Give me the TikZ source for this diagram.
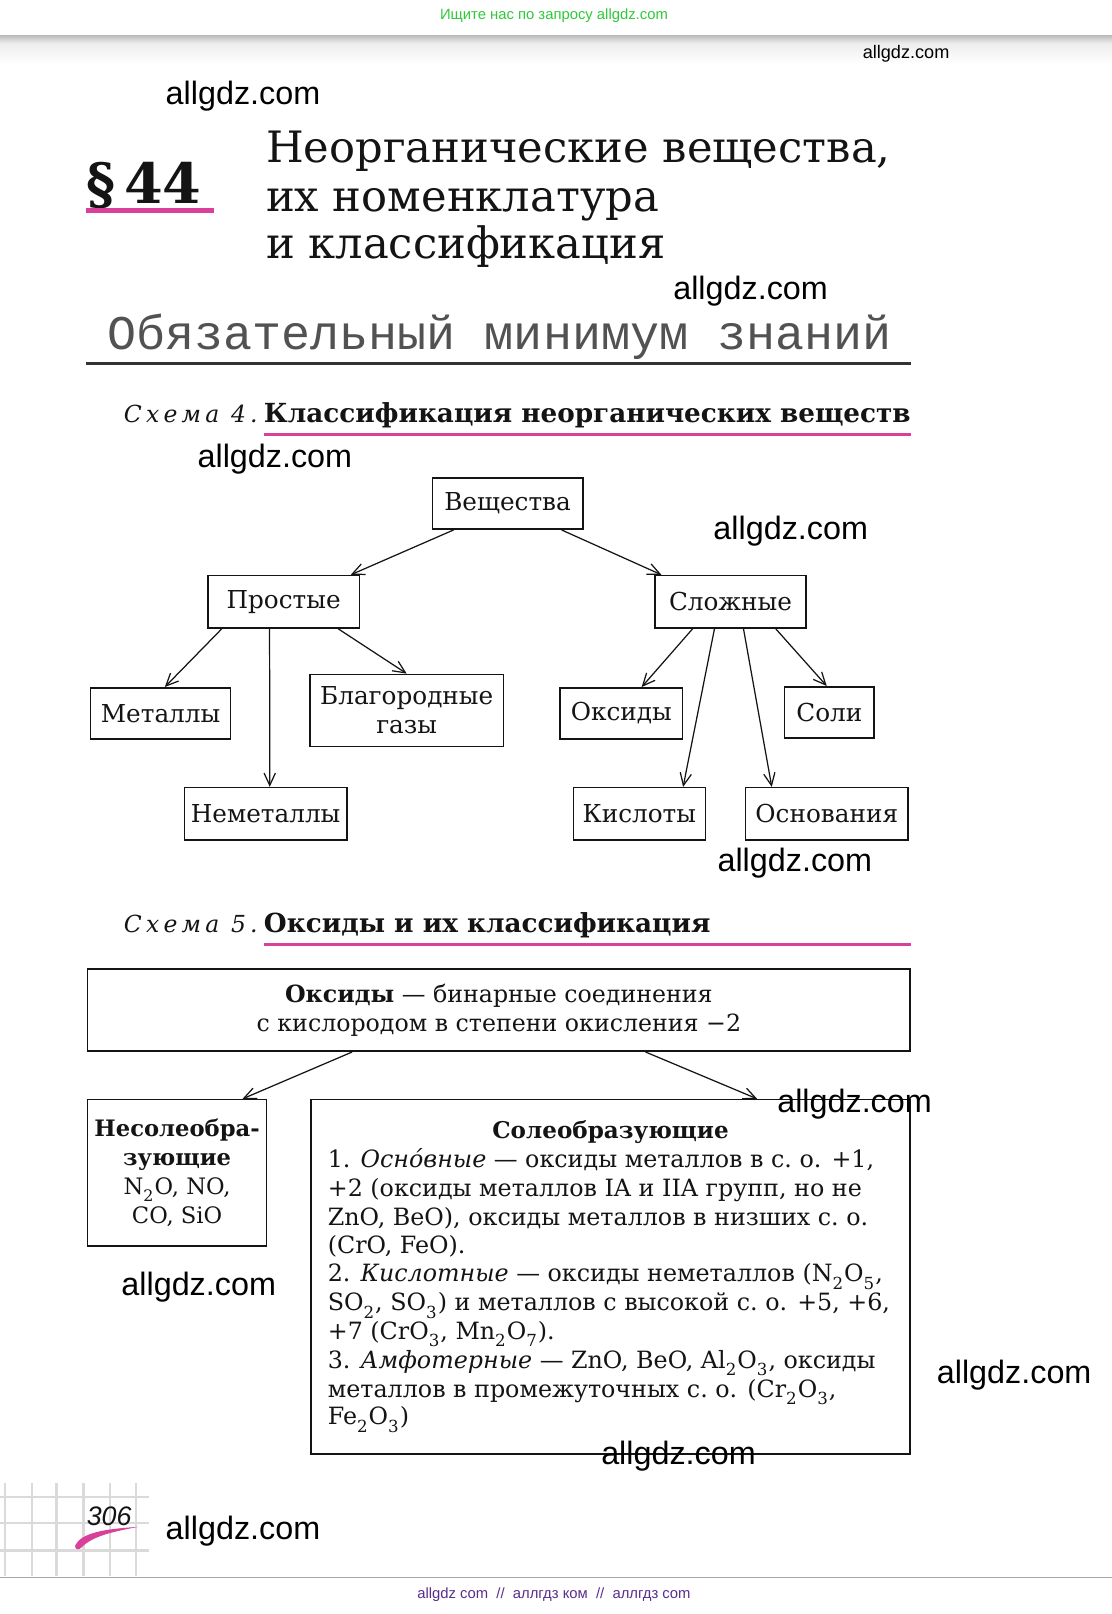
\documentclass[tikz,border=0pt]{standalone}
\usepackage{fontspec}
\setmainfont{DejaVu Serif}
\newfontfamily\wmfont{Liberation Sans}
\newfontfamily\monofnt{Liberation Mono}
\newfontfamily\spfont[LetterSpace=18]{DejaVu Serif}
\usetikzlibrary{arrows.meta,calc}
\definecolor{pinkl}{HTML}{D8409A}
\definecolor{greent}{HTML}{2FC93A}
\definecolor{purpt}{HTML}{5A2D8C}
\definecolor{gridg}{HTML}{DADADA}
\definecolor{ink}{HTML}{141414}
\tikzset{
  box/.style={draw=ink, line width=0.75pt, inner sep=0pt, align=center, text=ink,
              font=\fontsize{12}{14}\selectfont},
  arr/.style={draw=ink, line width=0.6pt, -{Straight Barb[length=6pt,width=5.5pt]}},
  wm/.style={font=\wmfont\fontsize{15.7}{18}\selectfont, inner sep=0pt, text=black},
  body/.style={anchor=base west, inner sep=0pt, text=ink, font=\fontsize{11.55}{14}\selectfont},
  ttl/.style={anchor=base west, inner sep=0pt, text=ink, font=\fontsize{21}{24}\selectfont},
  schem/.style={anchor=base west, inner sep=0pt, text=ink, font=\spfont\itshape\fontsize{11.4}{14}\selectfont},
  head/.style={anchor=base west, inner sep=0pt, text=ink, font=\bfseries\fontsize{12.75}{16}\selectfont},
}
\newcommand\myconn[4]{\draw[arr] ($(#1.south west)!#2!(#1.south east)$) -- ($(#3.north west)!#4!(#3.north east)$);}
\newcommand\sbs[1]{\raisebox{-0.15em}{\textsubscript{#1}}}
\begin{document}
\begin{tikzpicture}[x=0.5pt,y=-0.5pt]
\path[use as bounding box, fill=white] (0,0) rectangle (1080,1567.6);
% top bar
\shade[top color=black!27, bottom color=black!7] (0,34) rectangle (1080,42);
\shade[top color=black!7, bottom color=white] (0,42) rectangle (1080,62);
\node[font=\wmfont\fontsize{7.2}{9}\selectfont, text=greent, inner sep=0pt] (topad) at (538,15) {Ищите нас по запросу allgdz.com};
\node[wm, font=\wmfont\fontsize{8.8}{10}\selectfont] (wm0) at (880,52) {allgdz.com};
\node[wm] (wm1) at (236,93) {allgdz.com};
% section title
\node[anchor=base west, inner sep=0pt, text=ink, font=\bfseries\fontsize{27}{30}\selectfont] (para) at (84,198) {§\hspace{0.15em}44};
\fill[pinkl] (84,202) rectangle (208,207);
\node[ttl] (t1) at (258,158) {Неорганические вещества,};
\node[ttl] (t2) at (258,205) {их номенклатура};
\node[ttl] (t3) at (258,251) {и классификация};
\node[wm] (wm2) at (729,283) {allgdz.com};
\node[anchor=base west, inner sep=0pt, text=black!68, font=\monofnt\fontsize{23.5}{26}\selectfont] (minim) at (104,339) {Обязательный минимум знаний};
\fill[black!80] (84,351.5) rectangle (885,354.5);
% scheme 4 heading
\node[schem] (s4) at (120,410) {Схема 4.};
\node[head] (h4) at (256,410) {Классификация неорганических веществ};
\fill[pinkl] (256,421) rectangle (885,423.5);
\node[wm] (wm3) at (267,446) {allgdz.com};
% scheme 4 boxes
\node[box, minimum width=73pt, minimum height=25pt] (vesh) at (493,489) {Вещества};
\node[box, minimum width=73.5pt, minimum height=25.5pt] (prost) at (275.5,584.5) {Простые};
\node[box, minimum width=73.5pt, minimum height=25.5pt] (slozh) at (709.5,584.5) {Сложные};
\node[box, minimum width=68pt, minimum height=25pt] (met) at (156,693) {Металлы};
\node[box, minimum width=94pt, minimum height=35pt] (blag) at (395,690) {Благородные\\газы};
\node[box, minimum width=79pt, minimum height=25.5pt] (nemet) at (258,790.5) {Неметаллы};
\node[box, minimum width=59.5pt, minimum height=25pt] (oks) at (603.5,693) {Оксиды};
\node[box, minimum width=43.5pt, minimum height=25pt] (soli) at (805.5,692) {Соли};
\node[box, minimum width=64pt, minimum height=25.5pt] (kisl) at (621,790.5) {Кислоты};
\node[box, minimum width=79pt, minimum height=25.5pt] (osn) at (803,790.5) {Основания};
\myconn{vesh}{0.144}{prost}{0.939}
\myconn{vesh}{0.856}{slozh}{0.048}
\myconn{prost}{0.095}{met}{0.53}
\myconn{prost}{0.408}{nemet}{0.525}
\myconn{prost}{0.857}{blag}{0.5}
\myconn{slozh}{0.252}{oks}{0.664}
\myconn{slozh}{0.395}{kisl}{0.828}
\myconn{slozh}{0.585}{osn}{0.165}
\myconn{slozh}{0.796}{soli}{0.471}
\node[wm] (wm4) at (768,516) {allgdz.com};
\node[wm] (wm5) at (772,838) {allgdz.com};
% scheme 5 heading
\node[schem] (s5) at (120,906) {Схема 5.};
\node[head] (h5) at (256,906) {Оксиды и их классификация};
\fill[pinkl] (256,916) rectangle (885,918.5);
% scheme 5 boxes
\node[box, font=\fontsize{11.5}{14}\selectfont, minimum width=399.5pt, minimum height=40pt] (oxdef) at (484.5,981) {\textbf{Оксиды} — бинарные соединения\\с кислородом в степени окисления −2};
\node[box, font=\fontsize{11}{14}\selectfont, minimum width=87pt, minimum height=71pt] (nesol) at (172,1139) {\textbf{Несолеобра-}\\\textbf{зующие}\\N\sbs{2}O, NO,\\CO, SiO};
\node[box, minimum width=291pt, minimum height=172pt] (sol) at (593,1240) {};
\myconn{oxdef}{0.322}{nesol}{0.862}
\myconn{oxdef}{0.678}{sol}{0.744}
\node[anchor=base, inner sep=0pt, text=ink, font=\bfseries\fontsize{11.2}{14}\selectfont] (soltit) at (593,1106) {Солеобразующие};
\node[body] (l1) at (318,1134) {1. \textit{Осно́вные} — оксиды металлов в с.~о. +1,};
\node[body] (l2) at (318,1162) {+2 (оксиды металлов IA и IIA групп, но не};
\node[body] (l3) at (318,1190) {ZnO, BeO), оксиды металлов в низших с.~о.};
\node[body] (l4) at (318,1217) {(CrO, FeO).};
\node[body] (l5) at (318,1245) {2. \textit{Кислотные} — оксиды неметаллов (N\sbs{2}O\sbs{5},};
\node[body] (l6) at (318,1273) {SO\sbs{2}, SO\sbs{3}) и металлов с высокой с.~о. +5, +6,};
\node[body] (l7) at (318,1301) {+7 (CrO\sbs{3}, Mn\sbs{2}O\sbs{7}).};
\node[body] (l8) at (318,1329) {3. \textit{Амфотерные} — ZnO, BeO, Al\sbs{2}O\sbs{3}, оксиды};
\node[body] (l9) at (318,1357) {металлов в промежуточных с.~о. (Cr\sbs{2}O\sbs{3},};
\node[body] (l10) at (318,1384) {Fe\sbs{2}O\sbs{3})};
\node[wm] (wm6) at (830,1072) {allgdz.com};
\node[wm] (wm7) at (193,1250) {allgdz.com};
\node[wm] (wm8) at (985,1336) {allgdz.com};
\node[wm] (wm9) at (659,1414) {allgdz.com};
% page corner grid
\foreach \gx in {5,31,55,81,107,132} \draw[gridg, line width=1.2pt] (\gx,1440) -- (\gx,1531);
\foreach \gy in {1454,1479,1506} \draw[gridg, line width=1.2pt] (0,\gy) -- (145,\gy);
\node[inner sep=0pt, text=ink, font=\wmfont\itshape\fontsize{13}{15}\selectfont] (pnum) at (106,1473) {306};
\fill[pinkl] (73,1501) .. controls (79,1489) and (100,1485) .. (134,1483) .. controls (108,1488) and (90,1492) .. (79,1503) .. controls (77,1506) and (72,1505) .. cycle;
\node[wm] (wm10) at (236,1487) {allgdz.com};
% footer
\draw[black!35, line width=0.6pt] (0,1532) -- (1080,1532);
\node[font=\wmfont\fontsize{7.2}{9}\selectfont, text=purpt, inner sep=0pt] (foot) at (538,1549) {allgdz com \ // \ аллгдз ком \ // \ аллгдз com};
\end{tikzpicture}
\end{document}
